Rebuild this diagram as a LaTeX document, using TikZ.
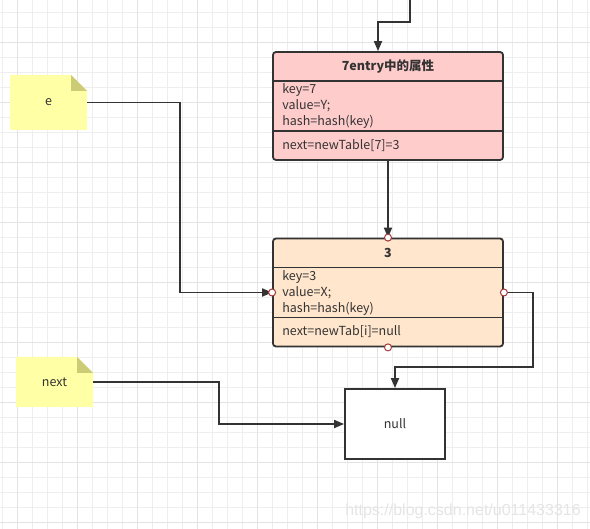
\documentclass[tikz,border=0pt]{standalone}
\usepackage{fontspec}
\setmainfont{Noto Sans CJK SC}
\newfontfamily\wmfont{Liberation Sans}
\usetikzlibrary{arrows.meta,calc}
\definecolor{hmgrid}{HTML}{EEEEEE}
\definecolor{hmgridmaj}{HTML}{E3E3E3}
\definecolor{hmink}{HTML}{333333}
\definecolor{hmpink}{HTML}{FFCCCC}
\definecolor{hmpeach}{HTML}{FFE6CC}
\definecolor{hmnote}{HTML}{FFFFA6}
\definecolor{hmfold}{HTML}{CCCC77}
\definecolor{hmport}{HTML}{A33A3A}

\begin{document}
\begin{tikzpicture}[x=1pt, y=-1pt,
  font=\fontsize{12.5}{16}\selectfont, text=hmink,
  entry/.style={draw=hmink, line width=1.8pt, rounded corners=3pt, minimum width=230pt, minimum height=108pt, inner sep=0pt},
  sep/.style={draw=hmink, line width=1.8pt},
  ttl/.style={font=\fontsize{12.5}{16}\selectfont\bfseries, inner sep=0pt},
  attr/.style={anchor=west, align=left, inner sep=0pt},
  port/.style={circle, draw=hmport, fill=white, line width=1pt, minimum size=7pt, inner sep=0pt},
  flow/.style={-{Triangle[length=10pt, width=8pt]}, draw=hmink, line width=1.8pt},
  nullbox/.style={draw=hmink, fill=white, line width=1.8pt, minimum width=100pt, minimum height=70pt, inner sep=0pt},
  note/.style={inner sep=0pt, minimum width=77pt, path picture={
    \fill[hmnote] (path picture bounding box.north west) -- ([xshift=-16pt]path picture bounding box.north east)
      -- ([yshift=-16pt]path picture bounding box.north east) -- (path picture bounding box.south east)
      -- (path picture bounding box.south west) -- cycle;
    \fill[hmfold] ([xshift=-16pt]path picture bounding box.north east) -- ([xshift=-16pt, yshift=-16pt]path picture bounding box.north east)
      -- ([yshift=-16pt]path picture bounding box.north east) -- cycle;}}
]
% ================= canvas and grid =================
\useasboundingbox (0,0) rectangle (590,529);
\fill[white] (0,0) rectangle (590,529);
\foreach \gx in {2.3,17.3,...,590} {\draw[hmgrid, line width=0.75pt] (\gx,0) -- (\gx,529);}
\foreach \gy in {12.3,27.3,...,529} {\draw[hmgrid, line width=0.75pt] (0,\gy) -- (590,\gy);}
\foreach \gx in {17.3,77.3,...,590} {\draw[hmgridmaj, line width=0.75pt] (\gx,0) -- (\gx,529);}
\foreach \gy in {42.3,102.3,...,529} {\draw[hmgridmaj, line width=0.75pt] (0,\gy) -- (590,\gy);}
% ================= entry at index 7 =================
\node[entry, fill=hmpink] (e7) at (388,106) {};
\node[ttl] (e7t) at ($(e7.north)+(0,15)$) {7entry中的属性};
\node[attr] (e7a) at ($(e7.north west)+(10,55)$) {key=7\\value=Y;\\hash=hash(key)};
\node[attr] (e7n) at ($(e7.north west)+(10,94)$) {next=newTable[7]=3};
\draw[sep] ($(e7.north west)+(0,30)$) -- ($(e7.north east)+(0,30)$);
\draw[sep] ($(e7.north west)+(0,80)$) -- ($(e7.north east)+(0,80)$);
% ================= entry 3 =================
\node[entry, fill=hmpeach] (e3) at (388,292.5) {};
\node[ttl] (e3t) at ($(e3.north)+(0,15)$) {3};
\node[attr] (e3a) at ($(e3.north west)+(10,55)$) {key=3\\value=X;\\hash=hash(key)};
\node[attr] (e3n) at ($(e3.north west)+(10,94)$) {next=newTab[i]=null};
\draw[sep] ($(e3.north west)+(0,30)$) -- ($(e3.north east)+(0,30)$);
\draw[sep] ($(e3.north west)+(0,80)$) -- ($(e3.north east)+(0,80)$);
% ================= notes and null =================
\node[note, minimum height=55pt] (e) at (48.5,102.5) {e};
\node[note, minimum height=50pt] (nx) at (54.5,382) {next};
\node[nullbox] (nul) at (395,424) {null};
\node[font=\wmfont\fontsize{16}{18}\selectfont, text=black!10] (wm) at (463,511) {https://blog.csdn.net/u011433316};
% ================= connectors =================
\coordinate (in) at (410,0);
\draw[flow] (in) -- ++(0,22) -| ([xshift=-10pt]e7.north);
\draw[flow] (e7.south) -- (e3.north);
\draw[flow] (e.east) -- ++(93,0) |- (e3.west);
\draw[flow] (e3.east) -- ++(29,0) |- ([yshift=21pt]nul.north) -- (nul.north);
\draw[flow] (nx.east) -- ++(126,0) |- (nul.west);
% ================= ports =================
\node[port] (p3n) at (e3.north) {};
\node[port] (p3w) at (e3.west) {};
\node[port] (p3e) at (e3.east) {};
\node[port] (p3s) at (e3.south) {};
\end{tikzpicture}
\end{document}
